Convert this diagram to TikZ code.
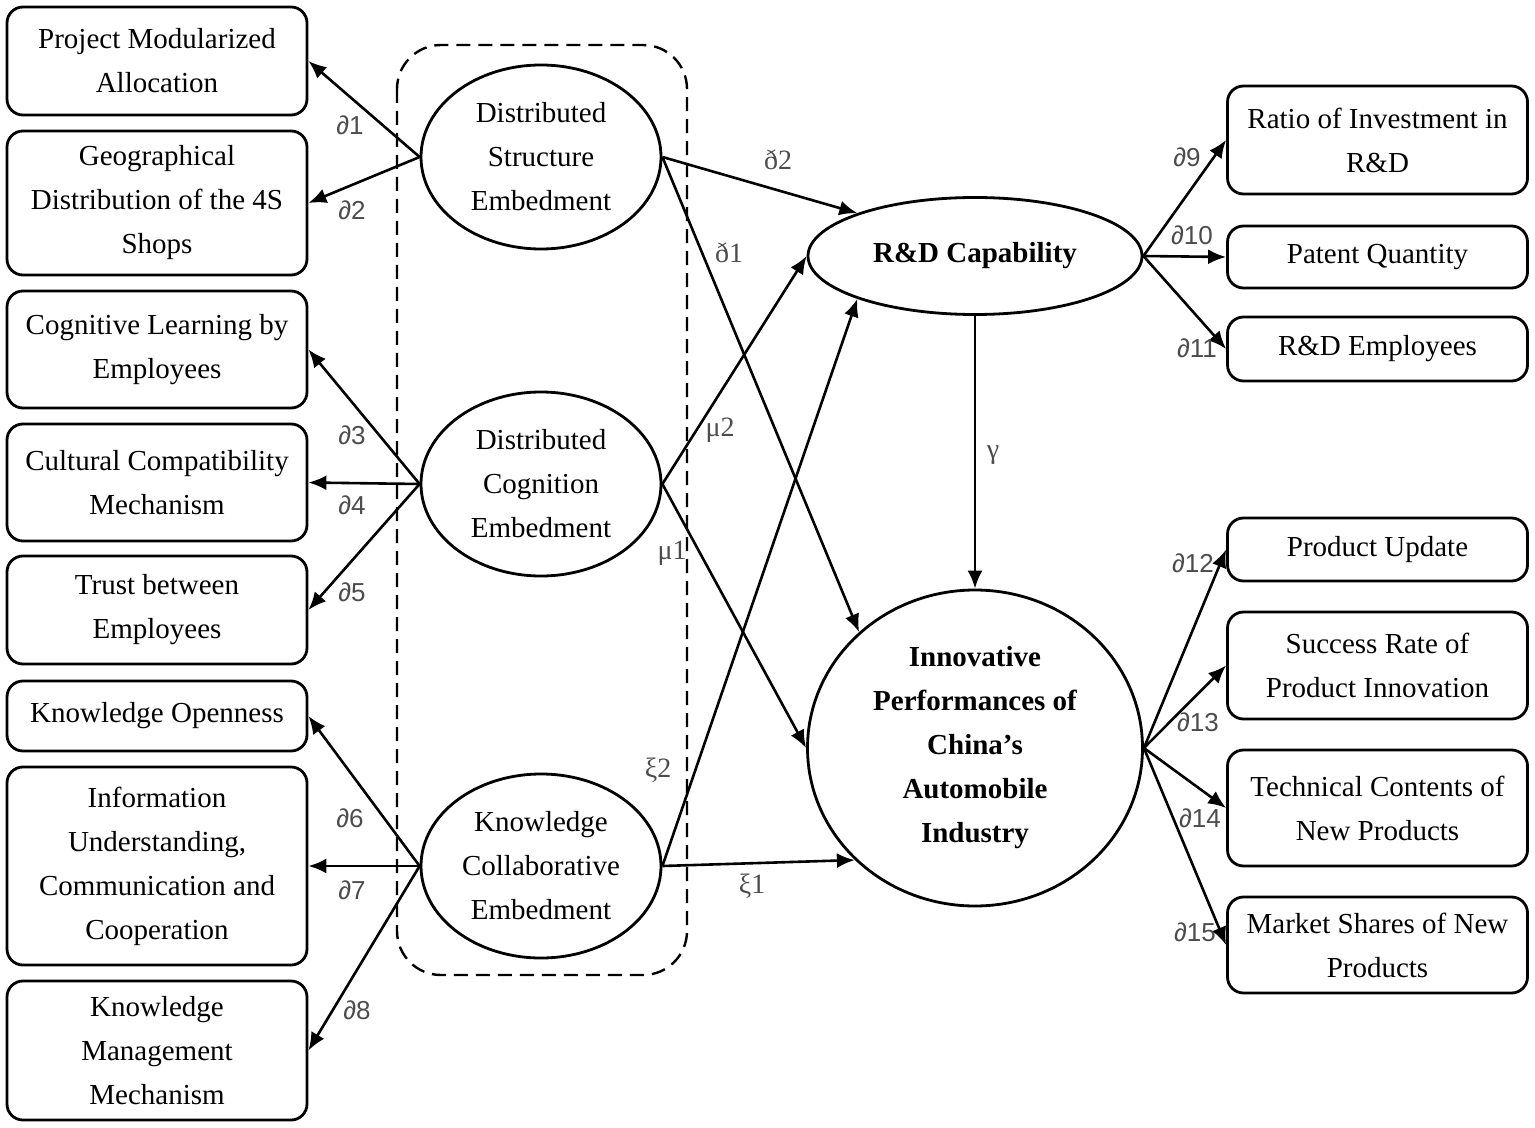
\documentclass[tikz,border=0pt]{standalone}
\usepackage{fontspec}
\setmainfont{Liberation Serif}
\newfontfamily\coeffont{Liberation Sans}
\usetikzlibrary{shapes.geometric,arrows.meta}

\begin{document}
\begin{tikzpicture}[x=0.5pt,y=-0.5pt,
  box/.style={draw,line width=1.4pt,rounded corners=8pt,minimum width=150pt,align=center,inner sep=0pt,font=\fontsize{14.5}{22}\selectfont},
  latent/.style={draw,ellipse,line width=1.4pt,minimum width=120pt,minimum height=92pt,align=center,inner sep=0pt,font=\fontsize{14.5}{22}\selectfont},
  link/.style={line width=1.3pt,-{Latex[length=9pt,width=7.5pt]}},
  coef/.style={text=black!70,font=\coeffont\fontsize{13}{13}\selectfont},
  greek/.style={text=black!70,font=\fontsize{14}{14}\selectfont}]
\useasboundingbox (0,0) rectangle (1535,1128);

% left indicators
\node[box,minimum height=54pt] (pma) at (157,61) {Project Modularized\\Allocation};
\node[box,minimum height=72pt] (geo) at (157,203) {Geographical\\Distribution of the 4S\\Shops};
\node[box,minimum height=58.5pt] (cle) at (157,349.5) {Cognitive Learning by\\Employees};
\node[box,minimum height=58.5pt] (ccm) at (157,482.5) {Cultural Compatibility\\Mechanism};
\node[box,minimum height=54pt] (tbe) at (157,610) {Trust between\\Employees};
\node[box,minimum height=35pt] (kop) at (157,716) {Knowledge Openness};
\node[box,minimum height=99pt] (iuc) at (157,866) {Information\\Understanding,\\Communication and\\Cooperation};
\node[box,minimum height=69.5pt] (kmm) at (157,1050.5) {Knowledge\\Management\\Mechanism};

% right indicators
\node[box,minimum height=54pt] (rir) at (1377.5,140) {Ratio of Investment in\\R\&D};
\node[box,minimum height=31pt] (pq) at (1377.5,257) {Patent Quantity};
\node[box,minimum height=32pt] (rde) at (1377.5,349) {R\&D Employees};
\node[box,minimum height=31.5pt] (pu) at (1377.5,549.5) {Product Update};
\node[box,minimum height=53.5pt] (srp) at (1377.5,665.5) {Success Rate of\\Product Innovation};
\node[box,minimum height=58pt] (tcn) at (1377.5,808) {Technical Contents of\\New Products};
\node[box,minimum height=48pt] (msn) at (1377.5,945) {Market Shares of New\\Products};

% embedment group
\draw[dash pattern=on 7pt off 4pt,line width=1.2pt,rounded corners=22pt] (397,45) rectangle (687,975);
\node[latent] (dse) at (541,157) {Distributed\\Structure\\Embedment};
\node[latent] (dce) at (541,484) {Distributed\\Cognition\\Embedment};
\node[latent] (kce) at (541,866) {Knowledge\\Collaborative\\Embedment};

\node[latent,minimum width=167pt,minimum height=58.5pt,font=\bfseries\fontsize{14.5}{22}\selectfont] (rd) at (975,256) {R\&D Capability};
\node[latent,minimum width=167.5pt,minimum height=158pt,font=\bfseries\fontsize{14.5}{22}\selectfont] (ip) at (975,748) {Innovative\\Performances of\\China’s\\Automobile\\Industry};

% loadings
\draw[link] (dse.west) -- (pma.east);
\draw[link] (dse.west) -- (geo.east);
\draw[link] (dce.west) -- (cle.east);
\draw[link] (dce.west) -- (ccm.east);
\draw[link] (dce.west) -- (tbe.east);
\draw[link] (kce.west) -- (kop.east);
\draw[link] (kce.west) -- (iuc.east);
\draw[link] (kce.west) -- (kmm.east);
\draw[link] (rd.east) -- (rir.west);
\draw[link] (rd.east) -- (pq.west);
\draw[link] (rd.east) -- (rde.west);
\draw[link] (ip.east) -- (pu.west);
\draw[link] (ip.east) -- (srp.west);
\draw[link] (ip.east) -- (tcn.west);
\draw[link] (ip.east) -- (msn.west);

% structural paths
\draw[link] (dse.east) -- (rd.160);
\draw[link] (dse.east) -- (ip.135);
\draw[link] (dce.east) -- (rd.west);
\draw[link] (dce.east) -- (ip.west);
\draw[link] (kce.east) -- (rd.200);
\draw[link] (kce.east) -- (ip.223);
\draw[link] (rd.south) -- (ip.north);

% coefficients
\node[coef] (c1) at (350,125) {∂1};
\node[coef] (c2) at (352,210) {∂2};
\node[coef] (c3) at (352,435) {∂3};
\node[coef] (c4) at (352,505) {∂4};
\node[coef] (c5) at (352,592) {∂5};
\node[coef] (c6) at (350,818) {∂6};
\node[coef] (c7) at (352,890) {∂7};
\node[coef] (c8) at (357,1010) {∂8};
\node[coef] (c9) at (1187,157) {∂9};
\node[coef] (c10) at (1192,235) {∂10};
\node[coef] (c11) at (1197,348) {∂11};
\node[coef] (c12) at (1193,563) {∂12};
\node[coef] (c13) at (1198,722) {∂13};
\node[coef] (c14) at (1200,818) {∂14};
\node[coef] (c15) at (1195,932) {∂15};
\node[greek] (g1) at (778,160) {ð2};
\node[greek] (g2) at (729,253) {ð1};
\node[greek] (g3) at (720,430) {μ2};
\node[greek] (g4) at (672,553) {μ1};
\node[greek] (g5) at (658,770) {ξ2};
\node[greek] (g6) at (752,886) {ξ1};
\node[greek] (g7) at (993,455) {γ};
\end{tikzpicture}
\end{document}
